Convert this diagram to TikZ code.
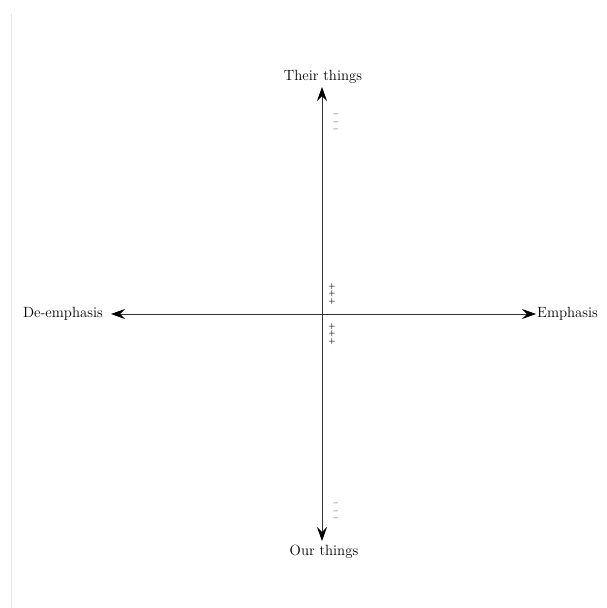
\documentclass[tikz,border=0pt]{standalone}
\usetikzlibrary{arrows.meta}
\begin{document}
\begin{tikzpicture}[x=1pt,y=-1pt,
  axis/.style={draw=black!80,line width=0.8pt,-{Stealth[length=14pt,width=10pt,inset=5pt,black]}},
  lbl/.style={font=\fontsize{14.8}{16}\selectfont,inner sep=0pt},
  sgn/.style={font=\fontsize{7.5}{7.5}\selectfont\bfseries,inner sep=0pt,text height=4.2pt,text depth=0pt}]
\useasboundingbox (0,0) rectangle (607,608);
\draw[black!10,line width=0.8pt] (11,14) -- (11,608);
\coordinate (c) at (322,314);
\node[lbl] (top) at (323,77) {Their things};
\node[lbl] (bot) at (324,552) {Our things};
\node[lbl,anchor=east] (left) at (103,314) {De-emphasis};
\node[lbl,anchor=west] (right) at (537,314) {Emphasis};
\coordinate (tt) at (322,87);
\coordinate (bb) at (322,541);
\coordinate (ll) at (111,314);
\coordinate (rr) at (536,314);
\draw[axis] (c) -- (tt);
\draw[axis] (c) -- (bb);
\draw[axis] (c) -- (ll);
\draw[axis] (c) -- (rr);
\foreach \y [count=\i] in {114,122,129} \node[sgn] (m\i) at (336,\y) {--};
\foreach \y [count=\i] in {286,293,301} \node[sgn] (p\i) at (332,\y) {+};
\foreach \y [count=\i] in {326,333,341} \node[sgn] (q\i) at (332,\y) {+};
\foreach \y [count=\i] in {503,511,518} \node[sgn] (n\i) at (336,\y) {--};
\end{tikzpicture}
\end{document}
